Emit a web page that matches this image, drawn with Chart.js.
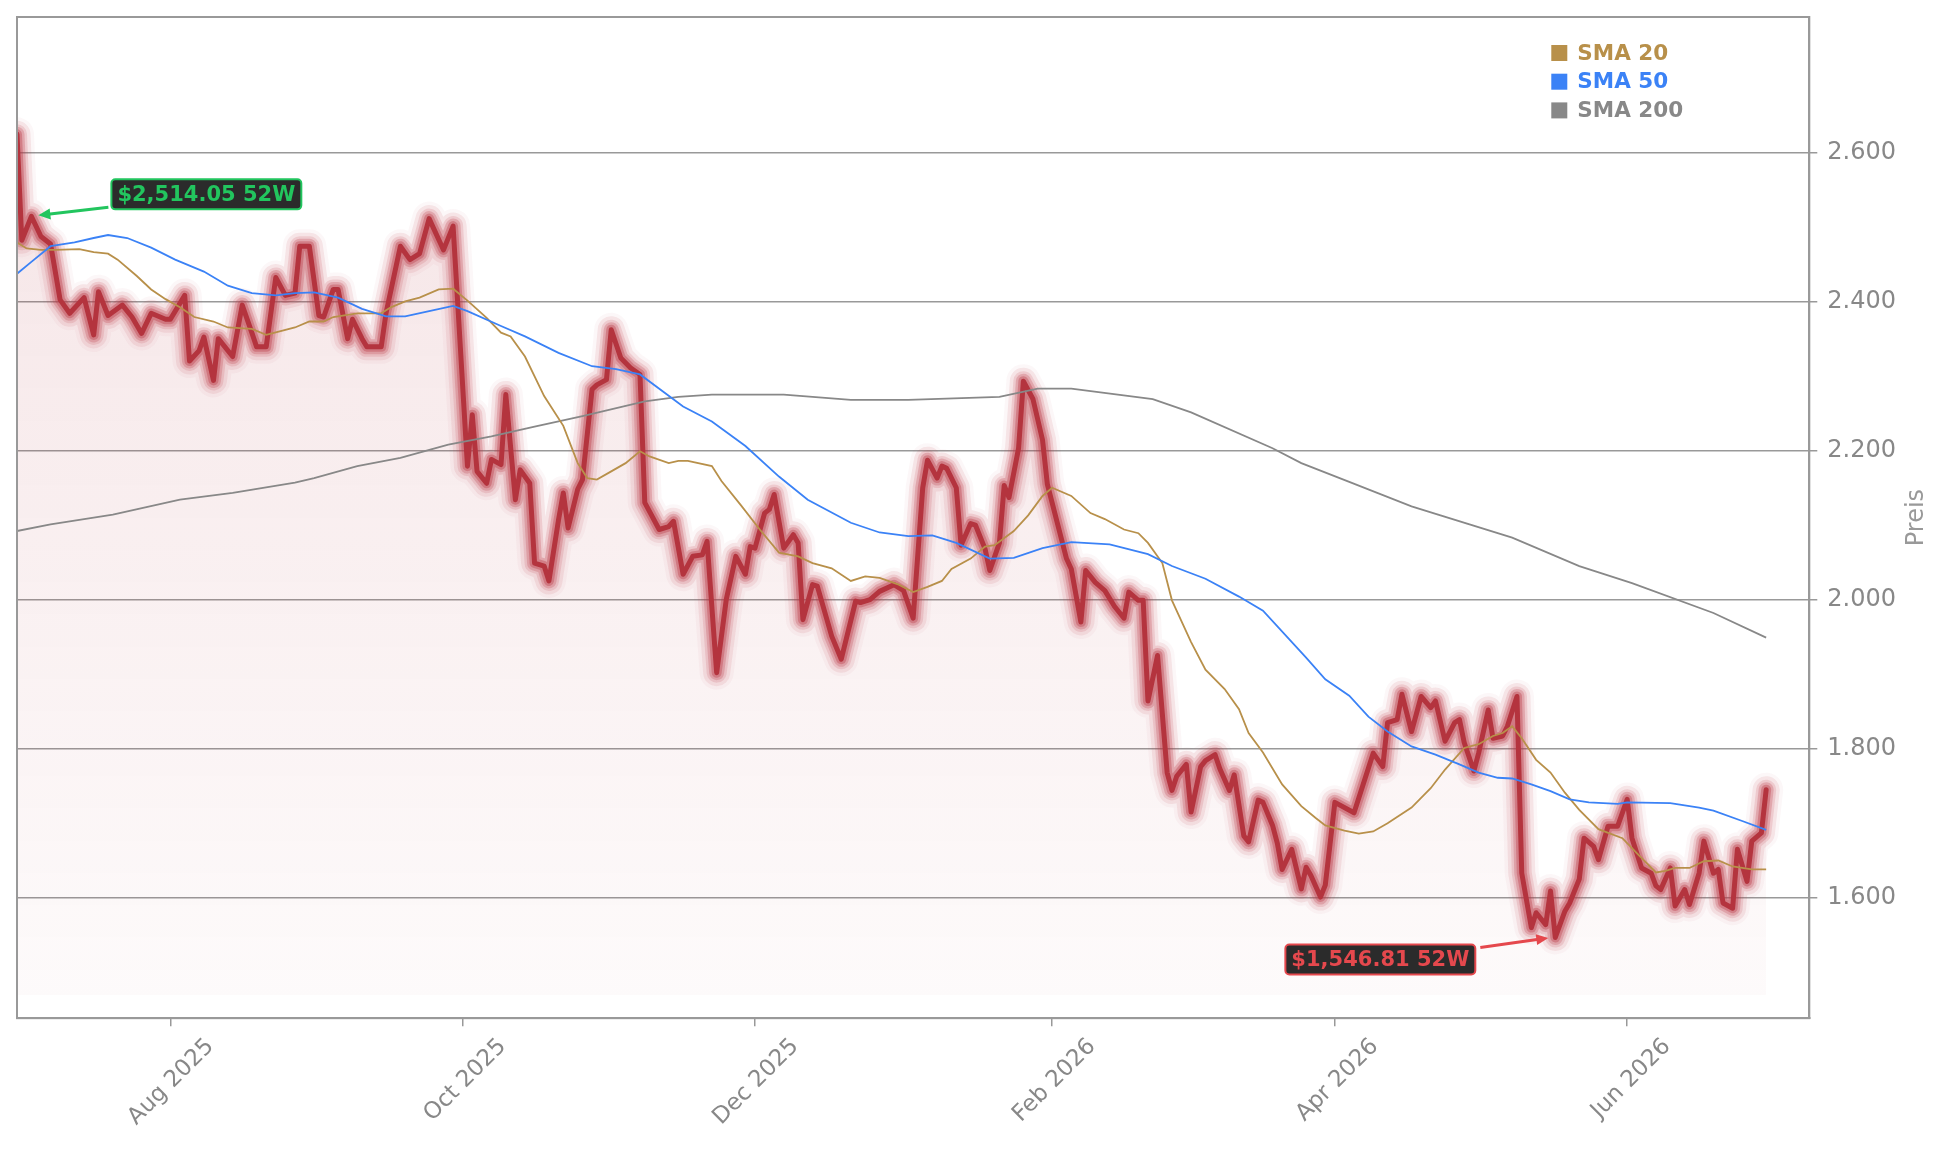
<!DOCTYPE html>
<html>
<head>
<meta charset="utf-8">
<script src="https://cdn.jsdelivr.net/npm/chart.js@4.4.1/dist/chart.umd.min.js"></script>
<style>
  html, body { margin: 0; padding: 0; background: #fff; }
  #wrap { width: 1944px; height: 1151px; }
</style>
</head>
<body>
<div id="wrap"><canvas id="chart"></canvas></div>
<script>
// --- Daten ---
const priceDates = [
  '2025-06-30','2025-07-01','2025-07-03','2025-07-05','2025-07-07','2025-07-09','2025-07-11','2025-07-14','2025-07-16','2025-07-17','2025-07-19','2025-07-22','2025-07-24','2025-07-26','2025-07-28','2025-07-31',
  '2025-08-01','2025-08-04','2025-08-05','2025-08-07','2025-08-08','2025-08-10','2025-08-11','2025-08-14','2025-08-16','2025-08-18','2025-08-19','2025-08-21','2025-08-23','2025-08-25','2025-08-27','2025-08-28','2025-08-30',
  '2025-09-01','2025-09-02','2025-09-04','2025-09-05','2025-09-07','2025-09-08','2025-09-10','2025-09-11','2025-09-14','2025-09-15','2025-09-18','2025-09-20','2025-09-22','2025-09-24','2025-09-27','2025-09-29',
  '2025-10-02','2025-10-03','2025-10-04','2025-10-06','2025-10-07','2025-10-09','2025-10-10','2025-10-12','2025-10-13','2025-10-15','2025-10-16','2025-10-18','2025-10-19','2025-10-21','2025-10-22','2025-10-23','2025-10-25','2025-10-26','2025-10-28','2025-10-29','2025-10-31',
  '2025-11-01','2025-11-03','2025-11-05','2025-11-07','2025-11-08','2025-11-11','2025-11-13','2025-11-14','2025-11-16','2025-11-18','2025-11-20','2025-11-21','2025-11-23','2025-11-25','2025-11-27','2025-11-29','2025-11-30',
  '2025-12-01','2025-12-03','2025-12-04','2025-12-05','2025-12-07','2025-12-09','2025-12-10','2025-12-11','2025-12-13','2025-12-14','2025-12-17','2025-12-19','2025-12-22','2025-12-23','2025-12-25','2025-12-27','2025-12-30',
  '2026-01-01','2026-01-03','2026-01-05','2026-01-06','2026-01-08','2026-01-09','2026-01-10','2026-01-12','2026-01-13','2026-01-15','2026-01-16','2026-01-18','2026-01-19','2026-01-21','2026-01-22','2026-01-23','2026-01-25','2026-01-26','2026-01-28','2026-01-30','2026-01-31',
  '2026-02-04','2026-02-05','2026-02-07','2026-02-08','2026-02-10','2026-02-12','2026-02-14','2026-02-16','2026-02-17','2026-02-19','2026-02-20','2026-02-21','2026-02-23','2026-02-25','2026-02-26','2026-02-27',
  '2026-03-01','2026-03-02','2026-03-04','2026-03-05','2026-03-07','2026-03-08','2026-03-10','2026-03-11','2026-03-13','2026-03-14','2026-03-16','2026-03-17','2026-03-19','2026-03-20','2026-03-21','2026-03-23','2026-03-25','2026-03-26','2026-03-27','2026-03-29','2026-03-30',
  '2026-04-01','2026-04-05','2026-04-09','2026-04-11','2026-04-12','2026-04-14','2026-04-15','2026-04-17','2026-04-19','2026-04-21','2026-04-22','2026-04-24','2026-04-26','2026-04-27','2026-04-28','2026-04-30',
  '2026-05-01','2026-05-03','2026-05-04','2026-05-06','2026-05-07','2026-05-09','2026-05-10','2026-05-12','2026-05-13','2026-05-15','2026-05-16','2026-05-17','2026-05-19','2026-05-20','2026-05-22','2026-05-23','2026-05-25','2026-05-26','2026-05-28','2026-05-30',
  '2026-06-01','2026-06-02','2026-06-04','2026-06-06','2026-06-07','2026-06-08','2026-06-10','2026-06-11','2026-06-13','2026-06-14','2026-06-16','2026-06-17','2026-06-19','2026-06-20','2026-06-21','2026-06-23','2026-06-24','2026-06-26','2026-06-27','2026-06-29','2026-06-30'
];
const priceValues = [
  2624,2482,2514.05,2487,2477,2402,2384,2405,2355,2413,2381,2395,2379,2357,2384,2376,
  2376,2408,2320,2334,2352,2294,2350,2326,2395,2358,2339,2339,2432,2408,2411,2474,2474,
  2381,2379,2416,2416,2350,2376,2350,2339,2339,2384,2474,2456,2464,2511,2469,2501,
  2179,2248,2172,2156,2188,2181,2275,2134,2174,2156,2049,2045,2025,2107,2143,2096,2148,2161,2282,2288,2295,
  2362,2324,2311,2302,2130,2094,2098,2105,2034,2058,2060,2078,1902,2000,2058,2034,2071,
  2069,2116,2121,2141,2069,2087,2076,1973,2020,2018,1951,1920,1998,1996,2000,2011,2020,
  2012,1975,2150,2187,2163,2179,2176,2150,2073,2102,2100,2068,2039,2076,2153,2137,2203,2293,2269,2214,2155,
  2055,2041,1970,2039,2023,2012,1991,1975,2010,1999,1999,1864,1925,1768,1744,1763,
  1779,1715,1776,1784,1792,1773,1744,1765,1683,1675,1731,1728,1697,1673,1638,1665,1612,1641,1630,1601,1617,
  1728,1714,1794,1776,1835,1839,1873,1823,1870,1855,1864,1810,1835,1839,1808,1770,
  1794,1852,1814,1817,1830,1870,1633,1560,1580,1564,1609,1546.81,1582,1593,1625,1680,1669,1651,1696,1696,
  1732,1680,1640,1633,1616,1611,1640,1589,1611,1591,1633,1676,1633,1638,1593,1586,1665,1622,1676,1687,1745
];

const sma20Dates = [
  '2025-06-30','2025-07-02','2025-07-05','2025-07-08','2025-07-13','2025-07-16','2025-07-19','2025-07-21','2025-07-25','2025-07-28','2025-07-31',
  '2025-08-03','2025-08-06','2025-08-10','2025-08-13','2025-08-18','2025-08-21','2025-08-24','2025-08-27','2025-08-30',
  '2025-09-02','2025-09-04','2025-09-06','2025-09-09','2025-09-14','2025-09-16','2025-09-19','2025-09-22','2025-09-26','2025-09-29',
  '2025-10-02','2025-10-06','2025-10-09','2025-10-11','2025-10-14','2025-10-18','2025-10-22','2025-10-25','2025-10-27','2025-10-29',
  '2025-11-01','2025-11-04','2025-11-07','2025-11-09','2025-11-13','2025-11-15','2025-11-17','2025-11-22','2025-11-24','2025-11-28',
  '2025-12-02','2025-12-06','2025-12-10','2025-12-13','2025-12-17','2025-12-21','2025-12-24','2025-12-27','2025-12-31',
  '2026-01-03','2026-01-06','2026-01-09','2026-01-11','2026-01-15','2026-01-18','2026-01-20','2026-01-24','2026-01-27','2026-01-30',
  '2026-02-01','2026-02-05','2026-02-09','2026-02-12','2026-02-16','2026-02-19','2026-02-21','2026-02-24','2026-02-26',
  '2026-03-02','2026-03-05','2026-03-09','2026-03-12','2026-03-14','2026-03-17','2026-03-21','2026-03-25','2026-03-28','2026-03-30',
  '2026-04-03','2026-04-06','2026-04-09','2026-04-12','2026-04-17','2026-04-21','2026-04-24','2026-04-28',
  '2026-05-01','2026-05-04','2026-05-06','2026-05-08','2026-05-10','2026-05-13','2026-05-16','2026-05-19','2026-05-22','2026-05-26','2026-05-31',
  '2026-06-03','2026-06-07','2026-06-09','2026-06-11','2026-06-14','2026-06-17','2026-06-20','2026-06-23','2026-06-25','2026-06-27','2026-06-30'
];
const sma20Values = [
  2479,2471,2469,2469,2470,2466,2464,2456,2434,2416,2403,
  2392,2379,2373,2365,2363,2355,2360,2365,2373,
  2373,2379,2381,2384,2384,2392,2400,2405,2416,2417,
  2401,2378,2358,2353,2326,2273,2233,2183,2163,2161,
  2172,2183,2199,2192,2183,2186,2186,2179,2159,2127,
  2094,2063,2058,2049,2042,2025,2031,2029,2020,
  2010,2017,2025,2041,2055,2071,2073,2092,2113,2139,
  2150,2139,2116,2108,2094,2089,2076,2049,1999,
  1943,1906,1880,1853,1821,1795,1752,1723,1707,1697,
  1690,1686,1689,1700,1721,1747,1772,1801,
  1806,1817,1821,1830,1814,1785,1768,1741,1718,1692,1680,
  1660,1634,1636,1640,1640,1649,1650,1642,1640,1638,1638
];

const sma50Dates = [
  '2025-06-30','2025-07-03','2025-07-07','2025-07-12','2025-07-16','2025-07-19','2025-07-23','2025-07-28',
  '2025-08-02','2025-08-08','2025-08-13','2025-08-18','2025-08-23','2025-08-27','2025-08-31',
  '2025-09-05','2025-09-10','2025-09-15','2025-09-19','2025-09-24','2025-09-29',
  '2025-10-02','2025-10-09','2025-10-14','2025-10-21','2025-10-28',
  '2025-11-02','2025-11-07','2025-11-16','2025-11-22','2025-11-29',
  '2025-12-06','2025-12-12','2025-12-21','2025-12-27',
  '2026-01-02','2026-01-07','2026-01-12','2026-01-19','2026-01-24','2026-01-30',
  '2026-02-05','2026-02-13','2026-02-21','2026-02-26',
  '2026-03-05','2026-03-12','2026-03-17','2026-03-26','2026-03-30',
  '2026-04-04','2026-04-08','2026-04-12','2026-04-17','2026-04-22','2026-04-27',
  '2026-05-01','2026-05-05','2026-05-08','2026-05-12','2026-05-16','2026-05-20','2026-05-24','2026-05-30',
  '2026-06-01','2026-06-10','2026-06-16','2026-06-19','2026-06-25','2026-06-30'
];
const sma50Values = [
  2437,2453,2474,2479,2485,2489,2485,2472,
  2456,2440,2421,2411,2408,2411,2412,
  2405,2390,2380,2380,2387,2394,
  2387,2367,2353,2331,2313,
  2309,2302,2259,2239,2206,
  2165,2134,2103,2090,
  2085,2086,2076,2055,2056,2069,
  2077,2074,2061,2045,
  2028,2004,1985,1922,1893,
  1871,1843,1823,1803,1792,1779,
  1768,1761,1760,1752,1743,1732,1728,1726,
  1728,1727,1721,1717,1703,1691
];

const sma200Dates = [
  '2025-06-30','2025-07-07','2025-07-20','2025-08-03','2025-08-14','2025-08-27','2025-08-31','2025-09-09','2025-09-18','2025-09-28',
  '2025-10-07','2025-10-16','2025-10-26','2025-11-08','2025-11-15','2025-11-22','2025-12-07','2025-12-21',
  '2026-01-02','2026-01-21','2026-01-29','2026-02-05','2026-02-22','2026-03-02','2026-03-19','2026-03-25',
  '2026-04-04','2026-04-17','2026-05-08','2026-05-22','2026-06-02','2026-06-19','2026-06-30'
];
const sma200Values = [
  2092,2101,2114,2134,2143,2157,2163,2179,2190,2208,
  2219,2232,2246,2266,2272,2275,2275,2268,
  2268,2272,2283,2283,2269,2251,2203,2183,
  2158,2125,2083,2045,2022,1982,1949
];

const xTickDates = ['2025-08-01','2025-10-01','2025-12-01','2026-02-01','2026-04-01','2026-06-01'];
const monthNames = ['Jan','Feb','Mar','Apr','May','Jun','Jul','Aug','Sep','Oct','Nov','Dec'];
const yTicks = [1600, 1800, 2000, 2200, 2400, 2600];
const xEndDate = '2026-07-09';

// --- Hilfsfunktionen ---
const FONT = '"DejaVu Sans", sans-serif';
const toDay = s => Date.parse(s + 'T00:00:00Z') / 86400000;
const pts = (dates, vals) => dates.map((d, i) => ({ x: toDay(d), y: vals[i] }));
const fmtDE = v => String(Math.round(v)).replace(/\B(?=(\d{3})+(?!\d))/g, '.');
const fmtUSD = v => '$' + v.toFixed(2).replace(/\B(?=(\d{3})+(?!\d))/g, ',');

const lowAll = Math.min(...priceValues);
const highAll = Math.max(...priceValues);
const yMin = lowAll * 0.93;
const yMax = highAll * 1.06;
const fillBase = lowAll * 0.95;

const pricePts = pts(priceDates, priceValues);

// Glow-Ringe um die Kurslinie (aussen -> innen)
const glowWidths = [34, 27, 20, 15, 10];
const glowAlphas = [0.04, 0.10, 0.15, 0.24, 0.36];
const glowSets = glowWidths.map((w, i) => ({
  data: pricePts,
  borderColor: 'rgba(185,55,68,' + glowAlphas[i] + ')',
  borderWidth: w,
  borderJoinStyle: 'round',
  borderCapStyle: 'round',
  pointRadius: 0,
  fill: false,
  order: 10 + (glowWidths.length - i)
}));

// --- Plugins ---
const frame = {
  id: 'frame',
  afterDraw(chart) {
    const { ctx, chartArea: a } = chart;
    ctx.save();
    ctx.strokeStyle = '#999';
    ctx.lineWidth = 2;
    ctx.strokeRect(a.left, a.top, a.right - a.left, a.bottom - a.top);
    ctx.restore();
  }
};

const yTitle = {
  id: 'yTitle',
  afterDraw(chart) {
    const { ctx, chartArea: a } = chart;
    ctx.save();
    ctx.translate(a.right + 107, (a.top + a.bottom) / 2);
    ctx.rotate(-Math.PI / 2);
    ctx.font = '24px ' + FONT;
    ctx.fillStyle = '#999';
    ctx.textAlign = 'center';
    ctx.textBaseline = 'middle';
    ctx.fillText('Preis', 0, 0);
    ctx.restore();
  }
};

const smaLegend = {
  id: 'smaLegend',
  afterDraw(chart) {
    const { ctx, chartArea: a } = chart;
    const items = chart.data.datasets.filter(d => d.inLegend);
    ctx.save();
    ctx.font = 'bold 21.5px ' + FONT;
    ctx.textBaseline = 'middle';
    items.forEach((d, i) => {
      const x = a.right - 258;
      const y = a.top + 36 + i * 28.7;
      ctx.fillStyle = d.borderColor;
      ctx.fillRect(x, y - 8, 16, 16);
      ctx.fillText(d.label, x + 26, y + 1);
    });
    ctx.restore();
  }
};

function drawTag(ctx, text, color, left, top) {
  ctx.font = 'bold 21px ' + FONT;
  const w = ctx.measureText(text).width + 12;
  const h = 30;
  ctx.beginPath();
  ctx.roundRect(left, top, w, h, 4);
  ctx.fillStyle = '#2b2b2b';
  ctx.fill();
  ctx.lineWidth = 2;
  ctx.strokeStyle = color;
  ctx.stroke();
  ctx.fillStyle = color;
  ctx.textAlign = 'center';
  ctx.textBaseline = 'middle';
  ctx.fillText(text, left + w / 2, top + h / 2 + 1);
  return { w, h };
}

function drawArrow(ctx, x1, y1, x2, y2, color) {
  const ang = Math.atan2(y2 - y1, x2 - x1);
  const hl = 12, hw = 5.5;
  ctx.strokeStyle = color;
  ctx.fillStyle = color;
  ctx.lineWidth = 3;
  ctx.beginPath();
  ctx.moveTo(x1, y1);
  ctx.lineTo(x2 - Math.cos(ang) * hl * 0.8, y2 - Math.sin(ang) * hl * 0.8);
  ctx.stroke();
  ctx.beginPath();
  ctx.moveTo(x2, y2);
  ctx.lineTo(x2 - Math.cos(ang) * hl - Math.sin(ang) * hw, y2 - Math.sin(ang) * hl + Math.cos(ang) * hw);
  ctx.lineTo(x2 - Math.cos(ang) * hl + Math.sin(ang) * hw, y2 - Math.sin(ang) * hl - Math.cos(ang) * hw);
  ctx.closePath();
  ctx.fill();
}

const extremes = {
  id: 'extremes',
  afterDatasetsDraw(chart) {
    const { ctx, scales: { x, y } } = chart;
    const lastDay = toDay(priceDates[priceDates.length - 1]);
    let hi = -1, lo = -1;
    priceDates.forEach((d, i) => {
      if (toDay(d) <= lastDay - 365) return;
      if (hi < 0 || priceValues[i] > priceValues[hi]) hi = i;
      if (lo < 0 || priceValues[i] < priceValues[lo]) lo = i;
    });
    ctx.save();
    // 52W Hoch
    let px = x.getPixelForValue(toDay(priceDates[hi]));
    let py = y.getPixelForValue(priceValues[hi]);
    const green = '#22c55e';
    drawTag(ctx, fmtUSD(priceValues[hi]) + ' 52W', green, px + 80, py - 37);
    drawArrow(ctx, px + 77, py - 9, px + 7, py - 1, green);
    // 52W Tief
    px = x.getPixelForValue(toDay(priceDates[lo]));
    py = y.getPixelForValue(priceValues[lo]);
    const red = '#e5484d';
    ctx.font = 'bold 21px ' + FONT;
    const tw = ctx.measureText(fmtUSD(priceValues[lo]) + ' 52W').width + 12;
    drawTag(ctx, fmtUSD(priceValues[lo]) + ' 52W', red, px - 80 - tw, py + 7);
    drawArrow(ctx, px - 75, py + 10, px - 7, py + 0.5, red);
    ctx.restore();
  }
};

// --- Chart ---
new Chart(document.getElementById('chart'), {
  type: 'line',
  data: {
    datasets: [
      {
        label: 'SMA 20', inLegend: true,
        data: pts(sma20Dates, sma20Values),
        borderColor: '#b8904a', borderWidth: 1.8, pointRadius: 0, fill: false, order: 3
      },
      {
        label: 'SMA 50', inLegend: true,
        data: pts(sma50Dates, sma50Values),
        borderColor: '#3b82f6', borderWidth: 1.8, pointRadius: 0, fill: false, order: 2
      },
      {
        label: 'SMA 200', inLegend: true,
        data: pts(sma200Dates, sma200Values),
        borderColor: '#888888', borderWidth: 1.8, pointRadius: 0, fill: false, order: 4
      },
      {
        label: 'Kurs',
        data: pricePts,
        borderColor: 'rgb(180,52,62)',
        borderWidth: 5,
        borderJoinStyle: 'round',
        borderCapStyle: 'round',
        pointRadius: 0,
        order: 5,
        fill: { value: fillBase },
        backgroundColor: (c) => {
          const a = c.chart.chartArea;
          if (!a) return 'rgba(180,50,62,0.08)';
          const g = c.chart.ctx.createLinearGradient(0, a.top, 0, a.bottom);
          g.addColorStop(0, 'rgba(180,50,62,0.14)');
          g.addColorStop(1, 'rgba(180,50,62,0.02)');
          return g;
        }
      },
      ...glowSets
    ]
  },
  options: {
    responsive: true,
    maintainAspectRatio: false,
    animation: false,
    layout: { padding: { top: 17, left: 17, right: 38, bottom: 13 } },
    plugins: {
      legend: { display: false },
      tooltip: { enabled: false },
      filler: { drawTime: 'beforeDatasetsDraw' }
    },
    scales: {
      x: {
        type: 'linear',
        min: toDay(priceDates[0]),
        max: toDay(xEndDate),
        afterBuildTicks: s => { s.ticks = xTickDates.map(d => ({ value: toDay(d) })); },
        ticks: {
          autoSkip: false,
          maxRotation: 45,
          minRotation: 45,
          labelOffset: 40,
          padding: 7,
          color: '#888',
          font: { family: FONT, size: 23 },
          callback: v => {
            const d = new Date(v * 86400000);
            return monthNames[d.getUTCMonth()] + ' ' + d.getUTCFullYear();
          }
        },
        grid: { drawOnChartArea: false, drawTicks: true, tickLength: 8, color: '#999', lineWidth: 1.5 },
        border: { color: '#999', width: 2 }
      },
      y: {
        position: 'right',
        min: yMin,
        max: yMax,
        afterBuildTicks: s => { s.ticks = yTicks.map(v => ({ value: v })); },
        afterFit: s => { s.paddingTop = 0; s.paddingBottom = 0; },
        ticks: {
          padding: 10,
          color: '#888',
          font: { family: FONT, size: 24 },
          callback: v => fmtDE(v)
        },
        grid: { color: '#999', lineWidth: 1.5, tickLength: 8 },
        border: { color: '#999', width: 2 }
      }
    }
  },
  plugins: [frame, yTitle, smaLegend, extremes]
});
</script>
</body>
</html>
